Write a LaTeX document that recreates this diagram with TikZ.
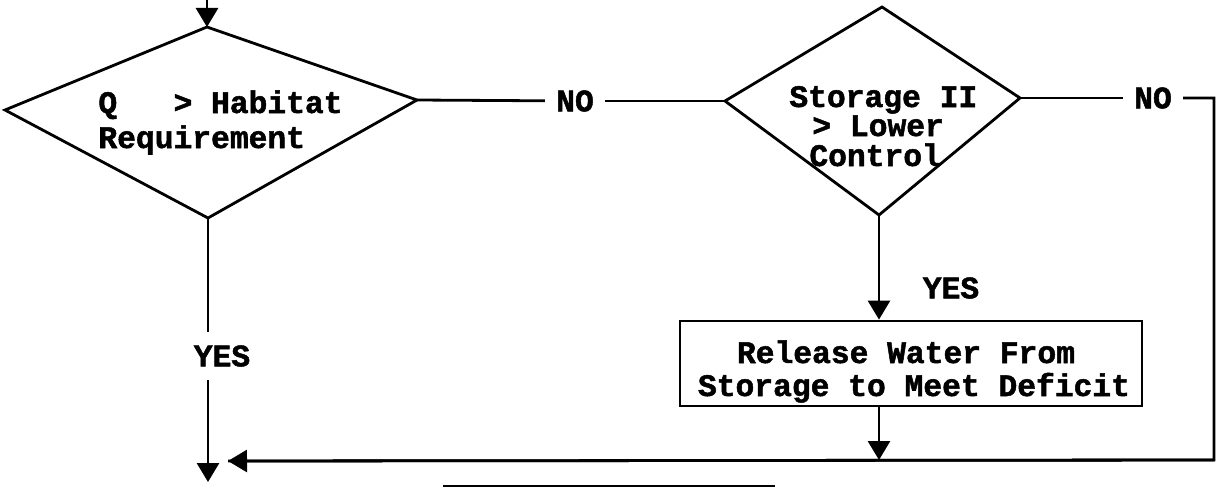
\documentclass[tikz,border=0pt]{standalone}
\usepackage{fontspec}
\newfontfamily\dmfont{Liberation Mono}[BoldFeatures={FakeBold=1.6}]
\usetikzlibrary{arrows.meta}
\newcommand{\lblfont}{\dmfont\bfseries\fontsize{31.3}{33}\selectfont}
\begin{document}
\begin{tikzpicture}[x=1pt,y=-1pt,line width=2.8pt,
  lbl/.style={font=\lblfont, inner sep=0pt},
  gaplbl/.style={font=\lblfont, inner xsep=10pt, inner ysep=12pt},
  arr/.style={-{Triangle[length=19pt,width=22pt]}},
  boxnode/.style={draw, minimum width=462pt, minimum height=85pt, inner sep=0pt}]
\useasboundingbox (0,0) rectangle (1217,487);
% diamond 1
\coordinate (d1t) at (207,27);
\coordinate (d1r) at (417,100);
\coordinate (d1b) at (208,218);
\coordinate (d1l) at (5,110);
\draw (d1t) -- (d1r) -- (d1b) -- (d1l) -- cycle;
\node[lbl, anchor=base west] (q1a) at (97,113) {Q~~~> Habitat};
\node[lbl, anchor=base west] (q1b) at (97,148) {Requirement};
% diamond 2
\coordinate (d2t) at (882,7);
\coordinate (d2r) at (1020,98);
\coordinate (d2b) at (879,215);
\coordinate (d2l) at (725,101);
\draw (d2t) -- (d2r) -- (d2b) -- (d2l) -- cycle;
\node[lbl, anchor=base west] (q2a) at (788,107) {Storage II};
\node[lbl, anchor=base west] (q2b) at (811,136) {> Lower};
\node[lbl, anchor=base west] (q2c) at (808,166) {Control};
% process box
\node[boxnode] (box) at (911,363.5) {};
\node[lbl, anchor=base] (b1) at (906,363) {Release Water From};
\node[lbl, anchor=base] (b2) at (914,396) {Storage to Meet Deficit};
% labels
\node[gaplbl] (no1) at (575,101) {NO};
\node[gaplbl] (no2) at (1153,98) {NO};
\node[gaplbl] (yes1) at (222,356) {YES};
\node[lbl] (yes2) at (951,288) {YES};
% connectors
\coordinate (topin) at (207,0);
\coordinate (rt) at (1214,98);
\coordinate (rc) at (1214,460);
\coordinate (ret) at (228,461);
\coordinate (bl) at (208,482);
\draw[arr] (topin) -- (d1t);
\draw (d1r) -- (no1);
\draw (no1) -- (d2l);
\draw (d2r) -- (no2);
\draw (no2) -- (rt) -- (rc) -- (ret);
\draw[arr] (rc) -- (ret);
\draw (d1b) -- (d1b |- yes1.north);
\draw[arr] (d1b |- yes1.south) -- (bl);
\draw[arr] (d2b) -- (d2b |- box.north);
\draw[arr] (box.south -| d2b) -- (d2b |- rc);
% cut-off box edge at the bottom
\coordinate (cl) at (443,486);
\coordinate (cr) at (775,486);
\draw (cl) -- (cr);
\end{tikzpicture}
\end{document}
